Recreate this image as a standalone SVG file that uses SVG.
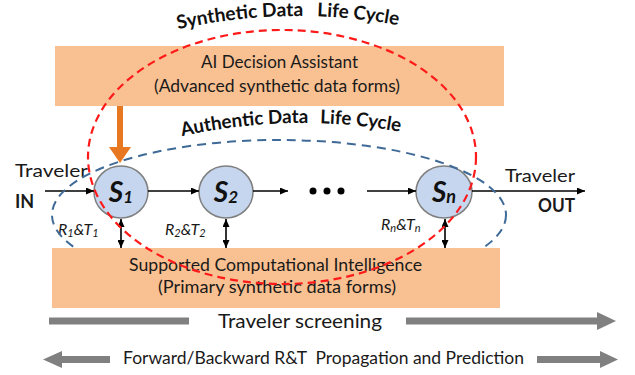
<svg xmlns="http://www.w3.org/2000/svg" width="635" height="375" viewBox="0 0 635 375">
<style>
.t{font-family:Lato,"Liberation Sans",sans-serif;fill:#1a1a1a}
.box{fill:#F9C091}
.bt{font-size:17px}
.node{fill:#C5D6EE;stroke:#7F7F7F;stroke-width:1.5}
.s{font-family:Lato,"Liberation Sans",sans-serif;font-weight:bold;font-style:italic;font-size:28px;fill:#111}
.rt{font-family:Lato,"Liberation Sans",sans-serif;font-style:italic;font-size:16px;fill:#1a1a1a}
.con{stroke:#000;stroke-width:1.6;fill:none}
.gray{stroke:#808080;stroke-width:7;fill:none}
.arc{font-family:Lato,"Liberation Sans",sans-serif;font-weight:bold;font-size:19px;fill:#111}
</style>
<defs>
<marker id="ah" viewBox="0 0 8 7" refX="8" refY="3.5" markerWidth="8" markerHeight="7" markerUnits="userSpaceOnUse" orient="auto-start-reverse">
<path d="M0,0 L8,3.5 L0,7 z" fill="#000"/>
</marker>
<path id="synArc" d="M140,39.2 A550,550 0 0 1 460,40.4"/>
<path id="authArc" d="M144,146.2 A550,550 0 0 1 464,147.4"/>
</defs>

<g id="ai-decision-assistant">
<rect class="box" x="55" y="46" width="449" height="60"/>
<text class="t bt" x="279.5" y="68" text-anchor="middle" textLength="157" lengthAdjust="spacingAndGlyphs">AI Decision Assistant</text>
<text class="t bt" x="277" y="92" text-anchor="middle" textLength="246" lengthAdjust="spacingAndGlyphs">(Advanced synthetic data forms)</text>
</g>

<g id="node-s1">
<ellipse class="node" cx="121" cy="192" rx="27" ry="26"/>
<text class="s" x="121" y="202" text-anchor="middle">S<tspan font-size="17" dy="1">1</tspan></text>
</g>
<g id="node-s2">
<ellipse class="node" cx="226" cy="192" rx="27" ry="26"/>
<text class="s" x="226" y="202" text-anchor="middle">S<tspan font-size="17" dy="1">2</tspan></text>
</g>
<g id="node-sn">
<ellipse class="node" cx="444" cy="192" rx="28" ry="26"/>
<text class="s" x="444" y="202" text-anchor="middle">S<tspan font-size="18" dy="1">n</tspan></text>
</g>
<g id="ellipsis">
<circle cx="313" cy="191" r="3.5" fill="#000"/>
<circle cx="327" cy="191" r="3.5" fill="#000"/>
<circle cx="341" cy="191" r="3.5" fill="#000"/>
</g>

<g id="connectors">
<path class="con" d="M45,191 H94" marker-end="url(#ah)"/>
<path class="con" d="M148,191 H199" marker-end="url(#ah)"/>
<path class="con" d="M253,191 H288" marker-end="url(#ah)"/>
<path class="con" d="M367,191 H416" marker-end="url(#ah)"/>
<path class="con" d="M472,191 H585" marker-end="url(#ah)"/>
<path class="con" d="M121,219 V248" marker-start="url(#ah)" marker-end="url(#ah)"/>
<path class="con" d="M226,219 V248" marker-start="url(#ah)" marker-end="url(#ah)"/>
<path class="con" d="M445,219 V248" marker-start="url(#ah)" marker-end="url(#ah)"/>
<path d="M120,106 V148" stroke="#E87722" stroke-width="6" fill="none"/>
<polygon points="109,147 131,147 120,163" fill="#E87722"/>
</g>

<g id="labels">
<text class="t" x="15" y="177" font-size="18" textLength="73" lengthAdjust="spacingAndGlyphs">Traveler</text>
<text class="t" x="15" y="208" font-size="18" font-weight="bold">IN</text>
<text class="t" x="505" y="182" font-size="18" textLength="70" lengthAdjust="spacingAndGlyphs">Traveler</text>
<text class="t" x="538" y="212" font-size="18" font-weight="bold" textLength="37" lengthAdjust="spacingAndGlyphs">OUT</text>
<text class="rt" x="58" y="235">R<tspan font-size="11" dy="1.5">1</tspan><tspan dy="-1.5">&amp;T</tspan><tspan font-size="11" dy="1.5">1</tspan></text>
<text class="rt" x="165" y="235">R<tspan font-size="11" dy="1.5">2</tspan><tspan dy="-1.5">&amp;T</tspan><tspan font-size="11" dy="1.5">2</tspan></text>
<text class="rt" x="381" y="230">R<tspan font-size="11" dy="1.5">n</tspan><tspan dy="-1.5">&amp;T</tspan><tspan font-size="11" dy="1.5">n</tspan></text>
</g>

<g id="authentic-cycle">
<ellipse cx="279" cy="215" rx="227" ry="75" fill="none" stroke="#3F6A97" stroke-width="2" stroke-dasharray="9,6"/>
<text class="arc"><textPath href="#authArc" startOffset="39.4" textLength="127" lengthAdjust="spacingAndGlyphs">Authentic Data</textPath></text>
<text class="arc"><textPath href="#authArc" startOffset="178.3" textLength="80.6" lengthAdjust="spacingAndGlyphs">Life Cycle</textPath></text>
</g>

<g id="supported-computational-intelligence">
<rect class="box" x="52" y="248" width="448" height="60"/>
<text class="t bt" x="275.5" y="271" text-anchor="middle" textLength="293" lengthAdjust="spacingAndGlyphs">Supported Computational Intelligence</text>
<text class="t bt" x="277" y="293" text-anchor="middle" textLength="238" lengthAdjust="spacingAndGlyphs">(Primary synthetic data forms)</text>
</g>

<g id="synthetic-cycle">
<ellipse cx="282" cy="157" rx="194" ry="127" fill="none" stroke="#FF1A1A" stroke-width="2.2" stroke-dasharray="8,5"/>
<text class="arc"><textPath href="#synArc" startOffset="39.4" textLength="126" lengthAdjust="spacingAndGlyphs">Synthetic Data</textPath></text>
<text class="arc"><textPath href="#synArc" startOffset="179.3" textLength="81.6" lengthAdjust="spacingAndGlyphs">Life Cycle</textPath></text>
</g>

<g id="traveler-screening">
<path class="gray" d="M49,321 H189"/>
<path class="gray" d="M406,321 H598"/>
<polygon points="597,312 616,321 597,330" fill="#808080"/>
<text class="t" x="300" y="328" font-size="20" text-anchor="middle" textLength="164" lengthAdjust="spacingAndGlyphs">Traveler screening</text>
</g>

<g id="propagation">
<polygon points="43,359.5 62,351 62,368" fill="#808080"/>
<path class="gray" d="M61,359.5 H110"/>
<path class="gray" d="M537,359.5 H601"/>
<polygon points="600,351 618,359.5 600,368" fill="#808080"/>
<text class="t" x="323.5" y="364" font-size="17" text-anchor="middle" style="white-space:pre" textLength="401" lengthAdjust="spacingAndGlyphs">Forward/Backward R&amp;T  Propagation and Prediction</text>
</g>
</svg>
